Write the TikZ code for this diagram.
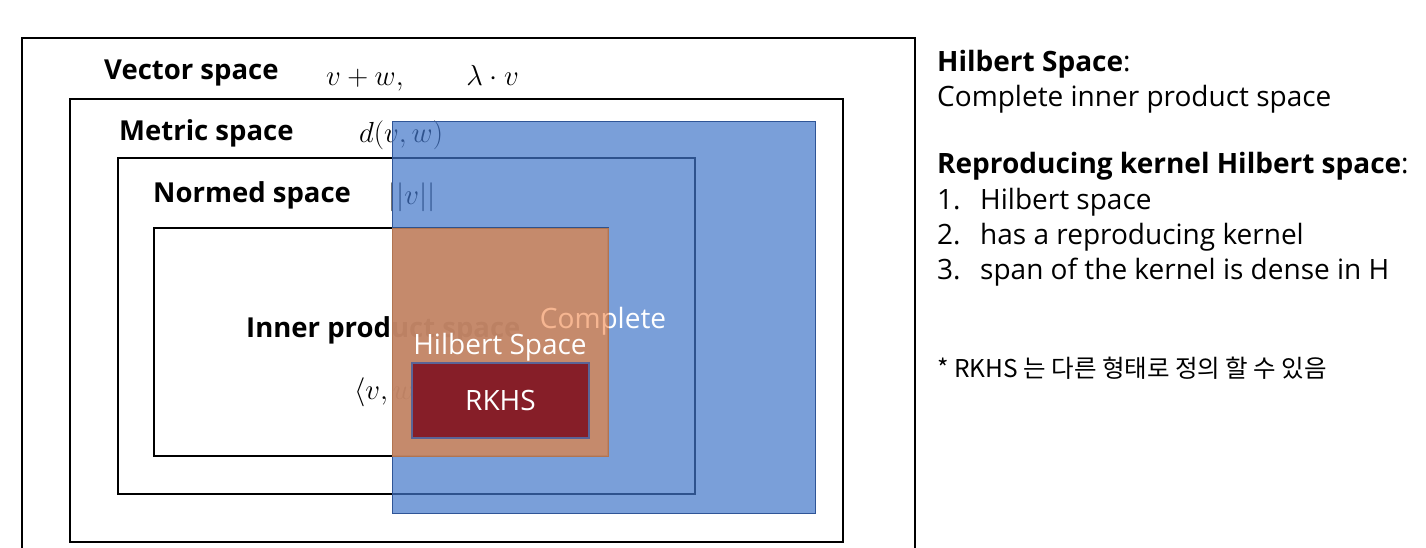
\RequirePackage{fix-cm}
\documentclass[tikz,border=0pt]{standalone}
\usepackage{fontspec}
\setmainfont{Open Sans}
\newfontfamily\krfont{Noto Sans CJK KR}
\definecolor{bluefill}{RGB}{66,118,201}
\definecolor{blueedge}{RGB}{47,85,151}
\definecolor{orangefill}{RGB}{208,136,94}
\definecolor{rkhsfill}{RGB}{134,30,40}
\definecolor{rkhsedge}{RGB}{90,100,150}
\definecolor{peach}{RGB}{246,182,146}
\tikzset{
  spacebox/.style={draw=black, line width=2.6pt},
  lbl/.style={font=\bfseries\fontsize{27.5}{32}\selectfont, anchor=mid west, inner sep=0pt},
  mth/.style={font=\fontsize{29}{34}\selectfont, anchor=mid west, inner sep=0pt},
  rt/.style={font=\fontsize{28}{32}\selectfont, anchor=mid west, inner sep=0pt},
  note/.style={font=\krfont\fontsize{24.5}{28}\selectfont, anchor=mid west, inner sep=0pt},
  wtxt/.style={font=\fontsize{28}{32}\selectfont, text=white, inner sep=0pt},
}
\begin{document}
\begin{tikzpicture}[x=1pt,y=-1pt]
\useasboundingbox (0,0) rectangle (1426,547);
\clip (0,0) rectangle (1426,547);
% nested spaces
\draw[spacebox] (22,38) rectangle (915,580);
\draw[spacebox] (70,99) rectangle (843,542);
\draw[spacebox] (118,158) rectangle (695,494);
\draw[spacebox] (154,228) rectangle (608,456);
% labels
\node[lbl] (vs) at (104,77) {Vector space};
\node[mth] (vsm) at (326,83) {$v+w,\qquad\lambda\cdot v$};
\node[lbl] (ms) at (119,138) {Metric space};
\node[mth] (msm) at (359,140) {$d(v,w)$};
\node[lbl] (ns) at (153,200) {Normed space};
\node[mth] (nsm) at (388,202) {$||v||$};
\node[lbl] (ips) at (246,335) {Inner product space};
\node[mth] (ipsm) at (354,397) {$\langle v,w\rangle$};
% complete region
\draw[blueedge, line width=1pt, fill=bluefill, fill opacity=0.7] (392,121) rectangle (815,513);
\node[wtxt] (cpl) at (603,321) {Complete};
\draw[orangefill!85!black, line width=0.8pt, fill=orangefill, fill opacity=0.88] (392,228) rectangle (608,456);
\begin{scope}
  \clip (392,228) rectangle (608,456);
  \node[wtxt, text=peach] (cplb) at (603,321) {Complete};
\end{scope}
\node[wtxt] (hs) at (500,347) {Hilbert Space};
\node[draw=rkhsedge, line width=1.2pt, fill=rkhsfill, minimum width=177pt, minimum height=75pt, inner sep=0pt,
      font=\fontsize{28}{32}\selectfont, text=white] (rkhs) at (500.5,400.5) {\raisebox{-2pt}{RKHS}};
% right column
\node[rt] (h1) at (937,69) {\textbf{Hilbert Space}:};
\node[rt] (h2) at (937,104) {Complete inner product space};
\node[rt] (r1) at (937,171) {\textbf{Reproducing kernel Hilbert space}:};
\node[rt] (n1) at (937,207) {1.};
\node[rt] (t1) at (980,207) {Hilbert space};
\node[rt] (n2) at (937,242) {2.};
\node[rt] (t2) at (980,242) {has a reproducing kernel};
\node[rt] (n3) at (937,277) {3.};
\node[rt] (t3) at (980,277) {span of the kernel is dense in H};
\node[note] (kn) at (937,375) {* RKHS 는 다른 형태로 정의 할 수 있음};
\end{tikzpicture}
\end{document}
